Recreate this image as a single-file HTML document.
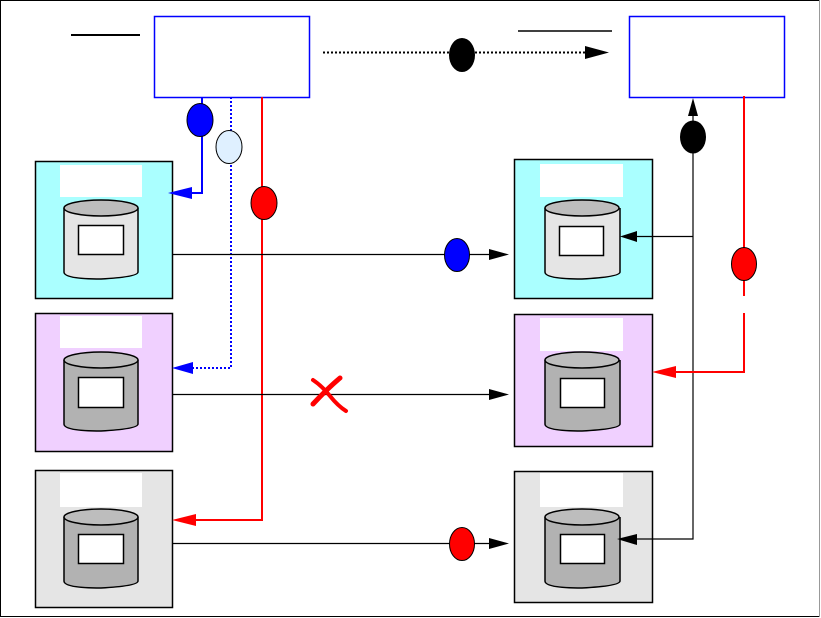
<!DOCTYPE html>
<html><head><meta charset="utf-8"><style>body{margin:0;background:#fff}svg{display:block}</style></head><body>
<svg width="821" height="618" viewBox="0 0 821 618" xmlns="http://www.w3.org/2000/svg">
<rect x="0.5" y="0.5" width="819" height="616" fill="#fff" stroke="#000"/>
<line x1="819.5" y1="0" x2="819.5" y2="617" stroke="#999"/>
<line x1="71" y1="35" x2="140" y2="35" stroke="#000" stroke-width="2"/>
<line x1="518" y1="31" x2="612" y2="31" stroke="#000" stroke-width="1.5"/>
<rect x="154.5" y="16.5" width="155" height="81" fill="#fff" stroke="#00f" stroke-width="1.5"/>
<rect x="629.5" y="16.5" width="155" height="81" fill="#fff" stroke="#00f" stroke-width="1.5"/>
<line x1="323" y1="52.5" x2="592" y2="52.5" stroke="#000" stroke-width="2" stroke-dasharray="2,2"/>
<path d="M585,46 L609,52.5 L585,59z" fill="#000"/>
<ellipse cx="462" cy="55" rx="13" ry="17" fill="#000"/>

<g stroke="#000" stroke-width="1.5">
<rect x="35.5" y="161.5" width="137" height="137" fill="#aaffff"/>
<rect x="35.5" y="313.5" width="137" height="138" fill="#f0d0ff"/>
<rect x="35.5" y="470.5" width="137" height="137" fill="#e5e5e5"/>
<rect x="514.5" y="159.5" width="138" height="139" fill="#aaffff"/>
<rect x="514.5" y="314.5" width="138" height="132" fill="#f0d0ff"/>
<rect x="514.5" y="471.5" width="138" height="131" fill="#e5e5e5"/>
</g>
<g fill="#fff">
<rect x="60" y="165" width="82" height="32"/><rect x="60" y="316" width="82" height="32"/><rect x="60" y="473" width="82" height="34"/>
<rect x="540" y="164" width="83" height="33"/><rect x="540" y="318" width="83" height="33"/><rect x="540" y="473" width="83" height="34"/>
</g>
<g stroke="#000" stroke-width="1.5">
<path d="M64,208 V272 Q64,279 101,279 Q138,277 138,272 V208" fill="#e5e5e5"/><ellipse cx="101" cy="208" rx="37" ry="8" fill="#bdbdbd"/><rect x="78.5" y="225.5" width="45" height="29" fill="#fff"/>
<path d="M64,360 V424 Q64,431 101,431 Q138,429 138,424 V360" fill="#b2b2b2"/><ellipse cx="101" cy="360" rx="37" ry="8" fill="#bdbdbd"/><rect x="78.5" y="377.5" width="45" height="30" fill="#fff"/>
<path d="M64,517 V581 Q64,588 101,588 Q138,586 138,581 V517" fill="#b2b2b2"/><ellipse cx="101" cy="517" rx="37" ry="8" fill="#bdbdbd"/><rect x="78.5" y="534.5" width="45" height="29" fill="#fff"/>
<path d="M545,208 V272 Q545,279 582,279 Q620,277 620,272 V208" fill="#e5e5e5"/><ellipse cx="582" cy="208" rx="37" ry="8" fill="#bdbdbd"/><rect x="559.5" y="226.5" width="44" height="29" fill="#fff"/>
<path d="M545,360 V424 Q545,431 582,431 Q620,429 620,424 V360" fill="#b2b2b2"/><ellipse cx="582" cy="360" rx="37" ry="8" fill="#bdbdbd"/><rect x="560.5" y="378.5" width="44" height="29" fill="#fff"/>
<path d="M545,517 V581 Q545,588 582,588 Q620,586 620,581 V517" fill="#b2b2b2"/><ellipse cx="582" cy="517" rx="37" ry="8" fill="#bdbdbd"/><rect x="560.5" y="534.5" width="44" height="29" fill="#fff"/>
</g>

<polyline points="202,97 202,193 190,193" fill="none" stroke="#00f" stroke-width="2"/>
<path d="M168,193 L192,187 L192,199z" fill="#00f"/>
<polyline points="231,97 231,368 192,368" fill="none" stroke="#00f" stroke-width="2" stroke-dasharray="2,2"/>
<path d="M172,368 L193,362 L193,374z" fill="#00f"/>
<polyline points="262,97 262,520 192,520" fill="none" stroke="#f00" stroke-width="2"/>
<path d="M172,520 L196,514 L196,526z" fill="#f00"/>
<ellipse cx="200" cy="120" rx="13" ry="16.5" fill="#00f" stroke="#000"/>
<ellipse cx="229" cy="147" rx="13" ry="16.5" fill="#dff0ff" stroke="#000"/>
<ellipse cx="264" cy="203" rx="13" ry="16.5" fill="#f00" stroke="#000"/>

<g stroke="#000" stroke-width="1.2">
<line x1="172" y1="254.5" x2="492" y2="254.5"/>
<line x1="172" y1="394.5" x2="492" y2="394.5"/>
<line x1="172" y1="543.5" x2="492" y2="543.5"/>
</g>
<path d="M489,249 L509,254.5 L489,260z" fill="#000"/>
<path d="M489,389 L509,394.5 L489,400z" fill="#000"/>
<path d="M489,538 L509,543.5 L489,549z" fill="#000"/>
<ellipse cx="457" cy="255" rx="12.5" ry="16.5" fill="#00f" stroke="#000"/>
<ellipse cx="462" cy="544" rx="12.5" ry="16.5" fill="#f00" stroke="#000"/>
<g stroke="#f00" stroke-linecap="round" fill="none">
<path d="M313,380 Q322,386 330,396 Q338,406 346,411" stroke-width="4"/>
<path d="M340,378 Q328,388 313,404" stroke-width="5"/>
</g>

<polyline points="693,115 693,539 635,539" fill="none" stroke="#000" stroke-width="1.2"/>
<line x1="693" y1="236.5" x2="635" y2="236.5" stroke="#000" stroke-width="1.2"/>
<path d="M620,236.5 L637,231 L637,242z" fill="#000"/>
<path d="M617,539 L637,534 L637,545z" fill="#000"/>
<path d="M693,98 L688,116 L698,116z" fill="#000"/>
<ellipse cx="693" cy="137" rx="13" ry="16.5" fill="#000"/>
<line x1="744" y1="96" x2="744" y2="296" stroke="#f00" stroke-width="2"/>
<polyline points="744,313 744,372 672,372" fill="none" stroke="#f00" stroke-width="2"/>
<path d="M652,372 L676,366 L676,378z" fill="#f00"/>
<ellipse cx="744" cy="264" rx="12.5" ry="16.5" fill="#f00" stroke="#000"/>
</svg>
</body></html>
